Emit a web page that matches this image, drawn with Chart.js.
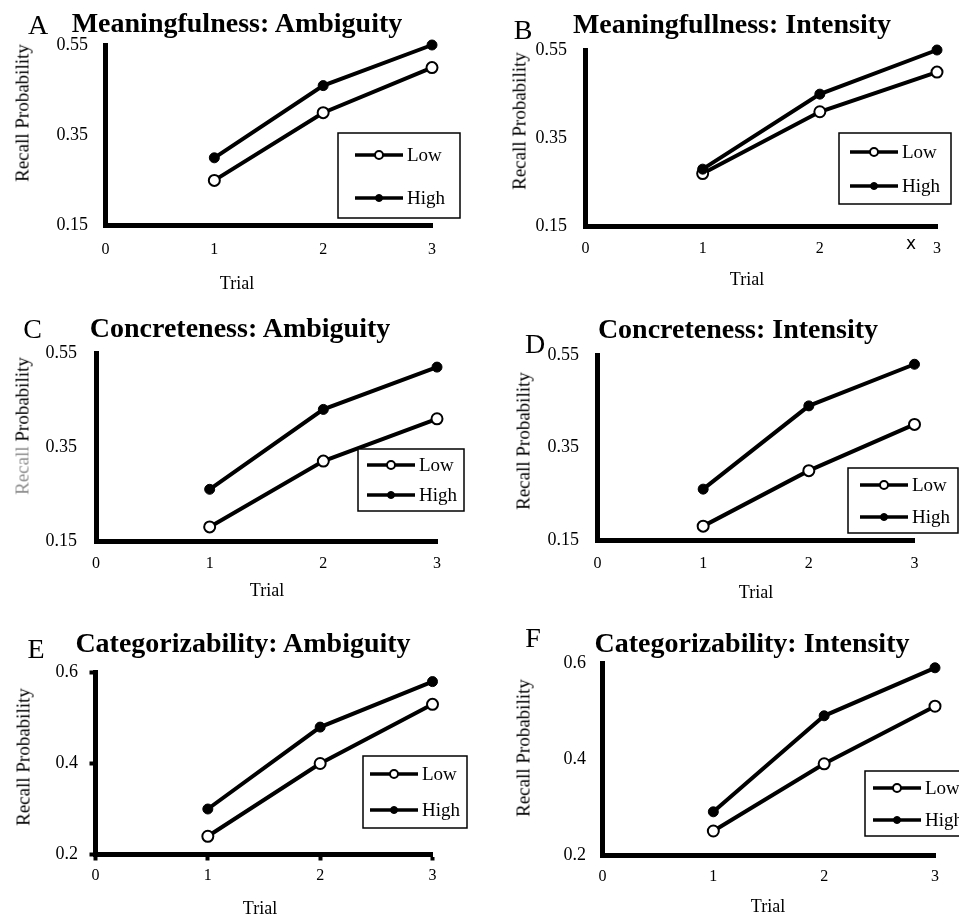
<!DOCTYPE html>
<html>
<head>
<meta charset="utf-8">
<script src="https://cdn.jsdelivr.net/npm/chart.js@4.4.1/dist/chart.umd.min.js"></script>
<style>
  html, body { margin: 0; padding: 0; background: #fff; }
  #page { position: relative; width: 959px; height: 916px; overflow: hidden; color: #000;
          font-family: 'Liberation Serif', 'Times New Roman', serif; }
  #page canvas { position: absolute; }
  .txt { position: absolute; white-space: nowrap; line-height: 1; }
</style>
</head>
<body>
<div id="page"></div>
<script>
// data
var trials = [1, 2, 3];
var xTicks = [0, 1, 2, 3];
var yTicksLow = [0.15, 0.35, 0.55];
var yLabelsLow = ['0.15', '0.35', '0.55'];
var yTicksHigh = [0.2, 0.4, 0.6];
var yLabelsHigh = ['0.2', '0.4', '0.6'];
var seriesNames = ['Low', 'High'];

var meanAmbLow = [0.25, 0.40, 0.50];
var meanAmbHigh = [0.30, 0.46, 0.55];
var meanIntLow = [0.27, 0.41, 0.50];
var meanIntHigh = [0.28, 0.45, 0.55];
var concAmbLow = [0.18, 0.32, 0.41];
var concAmbHigh = [0.26, 0.43, 0.52];
var concIntLow = [0.18, 0.30, 0.40];
var concIntHigh = [0.26, 0.44, 0.53];
var catAmbLow = [0.24, 0.40, 0.53];
var catAmbHigh = [0.30, 0.48, 0.58];
var catIntLow = [0.25, 0.39, 0.51];
var catIntHigh = [0.29, 0.49, 0.59];

var letters = ['A', 'B', 'C', 'D', 'E', 'F'];
var titles = ['Meaningfulness: Ambiguity', 'Meaningfullness: Intensity', 'Concreteness: Ambiguity',
              'Concreteness: Intensity', 'Categorizability: Ambiguity', 'Categorizability: Intensity'];
var xTitle = 'Trial';
var yTitleParts = ['Recall', 'Probability'];

var serif = "'Liberation Serif', 'Times New Roman', serif";
Chart.defaults.font.family = serif;
Chart.defaults.color = '#000';

// page layout of each panel (pixels in the 959x916 page)
var panels = [
  { letter: letters[0], title: titles[0], low: meanAmbLow, high: meanAmbHigh, yTicks: yTicksLow, yLabels: yLabelsLow,
    box: [0, 0, 480, 300], area: [105.5, 45, 432, 225.5], tickMarks: false, yPad: 17.5, xPad: 15,
    titleAt: [237, 32], letterAt: [38, 34], yTitleAt: [22, 113], xTitleAt: [237, 289],
    legend: { x: 338, y: 133, w: 122, h: 85, row0: 22, gap: 43, inset: 17 } },
  { letter: letters[1], title: titles[1], low: meanIntLow, high: meanIntHigh, yTicks: yTicksLow, yLabels: yLabelsLow,
    box: [480, 0, 479, 300], area: [585.5, 50, 937, 226.5], tickMarks: false, yPad: 18.5, xPad: 13,
    titleAt: [732, 33], letterAt: [523, 39], yTitleAt: [519, 121], xTitleAt: [747, 285],
    legend: { x: 839, y: 133, w: 112, h: 71, row0: 19, gap: 34, inset: 11 } },
  { letter: letters[2], title: titles[2], low: concAmbLow, high: concAmbHigh, yTicks: yTicksLow, yLabels: yLabelsLow,
    box: [0, 300, 480, 310], area: [96, 353, 437, 541], tickMarks: false, yPad: 19, xPad: 13.5, grayRecall: true,
    titleAt: [240, 337], letterAt: [32.5, 338], yTitleAt: [22, 426], xTitleAt: [267, 596],
    legend: { x: 358, y: 449, w: 106, h: 62, row0: 16, gap: 30, inset: 9 } },
  { letter: letters[3], title: titles[3], low: concIntLow, high: concIntHigh, yTicks: yTicksLow, yLabels: yLabelsLow,
    box: [480, 300, 479, 310], area: [597.5, 355, 914.5, 540], tickMarks: false, yPad: 18.5, xPad: 14,
    titleAt: [738, 338], letterAt: [535, 353], yTitleAt: [523, 441], xTitleAt: [756, 598],
    legend: { x: 848, y: 468, w: 110, h: 65, row0: 17, gap: 32, inset: 12 } },
  { letter: letters[4], title: titles[4], low: catAmbLow, high: catAmbHigh, yTicks: yTicksHigh, yLabels: yLabelsHigh,
    box: [0, 610, 480, 306], area: [95.5, 672.5, 432.5, 854.5], tickMarks: true, yPad: 11.5, xPad: 5.5,
    titleAt: [243, 652], letterAt: [36, 658], yTitleAt: [23, 757], xTitleAt: [260, 914],
    legend: { x: 363, y: 756, w: 104, h: 72, row0: 18, gap: 36, inset: 7 } },
  { letter: letters[5], title: titles[5], low: catIntLow, high: catIntHigh, yTicks: yTicksHigh, yLabels: yLabelsHigh,
    box: [480, 610, 479, 306], area: [602.5, 663, 935, 855], tickMarks: false, yPad: 16.5, xPad: 12.5,
    titleAt: [752, 652], letterAt: [533, 647], yTitleAt: [523, 748], xTitleAt: [768, 912],
    legend: { x: 865, y: 771, w: 120, h: 65, row0: 17, gap: 32, inset: 8 } }
];

var page = document.getElementById('page');

// text placed by centre x and baseline (line-height 1, Liberation metrics)
function addText(html, cx, baseline, size, extra) {
  var d = document.createElement('div');
  d.className = 'txt';
  d.innerHTML = html;
  d.style.fontSize = size + 'px';
  d.style.left = cx + 'px';
  d.style.top = (baseline - 0.8375 * size) + 'px';
  d.style.transform = 'translateX(-50%)';
  if (extra) Object.assign(d.style, extra);
  page.appendChild(d);
  return d;
}

function addVertical(html, cx, cy, size) {
  var d = document.createElement('div');
  d.className = 'txt';
  d.innerHTML = html;
  d.style.fontSize = size + 'px';
  d.style.left = cx + 'px';
  d.style.top = cy + 'px';
  d.style.transform = 'translate(-50%, -50%) rotate(-90deg)';
  page.appendChild(d);
}

// framed legend drawn inside the plot, from the datasets' own styles
var boxLegend = {
  id: 'boxLegend',
  afterDatasetsDraw: function(chart, args, o) {
    var ctx = chart.ctx;
    ctx.save();
    ctx.fillStyle = '#fff';
    ctx.fillRect(o.x, o.y, o.w, o.h);
    ctx.strokeStyle = '#000';
    ctx.lineWidth = 1.5;
    ctx.strokeRect(o.x, o.y, o.w, o.h);
    chart.data.datasets.forEach(function(ds, i) {
      var y = o.y + o.row0 + i * o.gap;
      var x0 = o.x + o.inset, x1 = x0 + 48;
      ctx.strokeStyle = ds.borderColor;
      ctx.lineWidth = 3.5;
      ctx.beginPath();
      ctx.moveTo(x0, y);
      ctx.lineTo(x1, y);
      ctx.stroke();
      ctx.beginPath();
      ctx.arc((x0 + x1) / 2, y, ds.legendRadius, 0, Math.PI * 2);
      ctx.fillStyle = ds.pointBackgroundColor;
      ctx.fill();
      ctx.lineWidth = ds.pointBorderWidth;
      ctx.strokeStyle = ds.pointBorderColor;
      ctx.stroke();
      ctx.fillStyle = '#000';
      ctx.font = '19px ' + serif;
      ctx.textBaseline = 'middle';
      ctx.fillText(ds.label, x1 + 4, y + 1);
    });
    ctx.restore();
  }
};

function toPoints(vals) {
  return vals.map(function(v, i) { return { x: trials[i], y: v }; });
}

panels.forEach(function(p) {
  var bx = p.box[0], by = p.box[1], bw = p.box[2], bh = p.box[3];
  var canvas = document.createElement('canvas');
  canvas.width = bw;
  canvas.height = bh;
  canvas.style.left = bx + 'px';
  canvas.style.top = by + 'px';
  page.appendChild(canvas);

  var tickLen = p.tickMarks ? 6 : 0;
  var grid = { display: true, drawOnChartArea: false, drawTicks: p.tickMarks,
               tickLength: tickLen, tickWidth: 4, tickColor: '#000' };
  var border = { display: true, color: '#000', width: 5 };

  new Chart(canvas, {
    type: 'line',
    data: {
      datasets: [
        { label: seriesNames[0], data: toPoints(p.low), borderColor: '#000', borderWidth: 4,
          pointRadius: 5.5, pointBorderWidth: 2, pointBackgroundColor: '#fff', pointBorderColor: '#000',
          legendRadius: 4, order: 1, clip: false },
        { label: seriesNames[1], data: toPoints(p.high), borderColor: '#000', borderWidth: 4,
          pointRadius: 5, pointBorderWidth: 1, pointBackgroundColor: '#000', pointBorderColor: '#000',
          legendRadius: 3.5, order: 0, clip: false }
      ]
    },
    options: {
      responsive: false,
      animation: false,
      events: [],
      layout: { padding: { left: 0, top: p.area[1] - by, right: bx + bw - p.area[2], bottom: 0 } },
      plugins: {
        legend: { display: false },
        tooltip: { enabled: false },
        boxLegend: { x: p.legend.x - bx, y: p.legend.y - by, w: p.legend.w, h: p.legend.h,
                     row0: p.legend.row0, gap: p.legend.gap, inset: p.legend.inset }
      },
      scales: {
        x: {
          type: 'linear',
          min: xTicks[0],
          max: xTicks[xTicks.length - 1],
          afterBuildTicks: function(axis) { axis.ticks = xTicks.map(function(v) { return { value: v }; }); },
          afterFit: function(scale) { scale.height = by + bh - p.area[3]; },
          ticks: { font: { size: 16 }, color: '#000', padding: p.xPad, maxRotation: 0, autoSkip: false },
          grid: grid,
          border: border
        },
        y: {
          type: 'linear',
          min: p.yTicks[0],
          max: p.yTicks[p.yTicks.length - 1],
          afterBuildTicks: function(axis) { axis.ticks = p.yTicks.map(function(v) { return { value: v }; }); },
          afterFit: function(scale) { scale.width = p.area[0] - bx; },
          ticks: { font: { size: 18 }, color: '#000', padding: p.yPad,
                   callback: function(value, index) { return p.yLabels[index]; } },
          grid: grid,
          border: border
        }
      }
    },
    plugins: [boxLegend]
  });

  addText(p.title, p.titleAt[0], p.titleAt[1], 28, { fontWeight: 'bold' });
  addText(p.letter, p.letterAt[0], p.letterAt[1], 28);
  addText(xTitle, p.xTitleAt[0], p.xTitleAt[1], 18);
  var yHtml = p.grayRecall
    ? '<span style="color:#8e8e8e">' + yTitleParts[0] + '</span> ' + yTitleParts[1]
    : yTitleParts.join(' ');
  addVertical(yHtml, p.yTitleAt[0], p.yTitleAt[1], 19);
});

// stray mark beside the last tick in panel B
addText('x', 911, 249, 17, { fontFamily: "'DejaVu Sans', sans-serif" });
</script>
</body>
</html>
